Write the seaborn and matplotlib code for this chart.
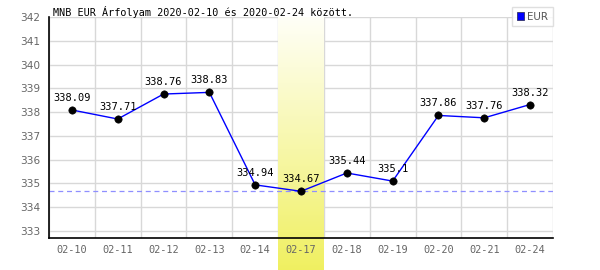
import numpy as np
import pandas as pd
import matplotlib
matplotlib.use("Agg")
import matplotlib.pyplot as plt
import seaborn as sns
from matplotlib.patches import Patch

dates = ["02-10", "02-11", "02-12", "02-13", "02-14", "02-17", "02-18", "02-19", "02-20", "02-21", "02-24"]
values = [338.09, 337.71, 338.76, 338.83, 334.94, 334.67, 335.44, 335.1, 337.86, 337.76, 338.32]
value_labels = ["338.09", "337.71", "338.76", "338.83", "334.94", "334.67", "335.44", "335.1", "337.86", "337.76", "338.32"]
yticks = [333, 334, 335, 336, 337, 338, 339, 340, 341, 342]
highlight = "02-17"
title = "MNB EUR Árfolyam 2020-02-10 és 2020-02-24 között."
series_name = "EUR"

sns.set_style("white")
plt.rcParams['font.family'] = ['DejaVu Sans']

df = pd.DataFrame({"pos": np.arange(len(dates)), "value": values})

fig = plt.figure(figsize=(6, 2.7), dpi=100)
W, H = 600, 270
ax = fig.add_axes([49 / W, 1 - 238 / H, (553 - 49) / W, (238 - 17) / H])
ymin, ymax = 332.706, 342

# manual grid (below the band)
for t in yticks:
    ax.axhline(t, color="#d8d8d8", lw=1, zorder=0.5)
for b in np.arange(len(dates) + 1) - 0.5:
    ax.axvline(b, color="#d8d8d8", lw=1, zorder=0.5)

# highlight band with gradient
hi = dates.index(highlight)
bottom_data = ymin - (270 - 238) / ((238 - 17) / (ymax - ymin))
grad = np.linspace(0, 1, 256).reshape(-1, 1)
top_c = np.array([1.0, 1.0, 0.97])
bot_c = np.array([0.94, 0.94, 0.38])
img = top_c[None, None, :] * (1 - grad[..., None]) + bot_c[None, None, :] * grad[..., None]
ax.imshow(img, extent=(hi - 0.5, hi + 0.5, bottom_data, ymax), aspect="auto",
          origin="upper", zorder=1, clip_on=False, interpolation="bilinear")

# min dashed line
ax.axhline(min(values), color="#8f8fff", lw=0.9, ls=(0, (4, 3)), zorder=2)

sns.lineplot(data=df, x="pos", y="value", color="#0000ff", lw=1, ax=ax, zorder=3, legend=False)
sns.scatterplot(data=df, x="pos", y="value", color="black", s=28, edgecolor="black", ax=ax, zorder=4, legend=False)
ax.set_xlabel("")
ax.set_ylabel("")

ax.set_xlim(-0.5, len(dates) - 0.5)
ax.set_ylim(ymin, ymax)

ax.grid(False)
ax.set_yticks(yticks)
ax.set_xticks(np.arange(len(dates)))
ax.tick_params(axis="x", which="both", length=0, pad=5)
ax.tick_params(axis="y", length=0, pad=6)
ax.set_xticklabels(dates, family="DejaVu Sans Mono", fontsize=7.4, color="#666666")
ax.set_yticklabels([str(t) for t in yticks], fontsize=7.6, color="#666666")
ax.xaxis.set_zorder(10)
ax.yaxis.set_zorder(10)

for s in ["top", "right"]:
    ax.spines[s].set_visible(False)
for s in ["left", "bottom"]:
    ax.spines[s].set_color("black")
    ax.spines[s].set_linewidth(1.2)
    ax.spines[s].set_zorder(11)

for x, v, lab in zip(df["pos"], values, value_labels):
    ax.annotate(lab, (x, v), xytext=(0, 5), textcoords="offset points", ha="center", va="bottom",
                family="DejaVu Sans Mono", fontsize=7.5, color="black", zorder=6)

fig.text(53 / W, 1 - 12 / H, title, family="DejaVu Sans Mono", fontsize=7.3, color="black", va="center", ha="left")

handle = Patch(facecolor="#0000ff", edgecolor="#333366", lw=0.6)
leg = fig.legend([handle], [series_name], loc="upper right", bbox_to_anchor=(553 / W, 1 - 7 / H),
                 frameon=True, fancybox=False, fontsize=7.4, handlelength=0.7, handleheight=0.7,
                 handletextpad=0.3, borderpad=0.45, borderaxespad=0)
leg.get_frame().set_edgecolor("#d8d8d8")
leg.get_frame().set_linewidth(1)
for t in leg.get_texts():
    t.set_color("#555555")

fig.savefig("out.png", dpi=100)
